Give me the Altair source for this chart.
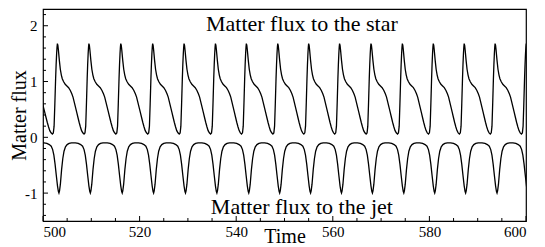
import altair as alt
import pandas as pd

# Peak times of the matter flux to the star
star_peaks = [496.2, 502.98, 509.5, 516.1, 522.7, 529.2, 535.7, 542.1, 548.6,
              555.0, 561.4, 567.9, 574.4, 580.8, 587.2, 593.6, 600.05, 606.5]
# One cycle of the star flux, offsets after a peak (for a 6.45 cycle) and values
star_off = [0.0, 0.1, 0.2, 0.4, 0.6, 0.8, 1.0, 1.25, 1.6, 1.95, 2.3, 2.65, 2.95,
            3.2, 3.45, 3.7, 3.95, 4.2, 4.45, 4.7, 4.95, 5.2, 5.45, 5.65, 5.8,
            5.95, 6.1, 6.2, 6.3, 6.38]
star_val = [1.68, 1.65, 1.57, 1.38, 1.22, 1.12, 1.05, 1.0, 0.95, 0.92, 0.89, 0.84,
            0.78, 0.72, 0.63, 0.54, 0.45, 0.36, 0.27, 0.19, 0.12, 0.08, 0.06, 0.08,
            0.2, 0.6, 1.05, 1.3, 1.5, 1.62]

# Times of the minima of the matter flux to the jet
jet_mins = [496.9, 503.3, 509.8, 516.4, 522.9, 529.5, 536.0, 542.6, 549.0,
            555.4, 561.8, 568.2, 574.7, 581.1, 587.5, 594.0, 600.4]
jet_off = [-3.1, -2.5, -2.0, -1.6, -1.3, -1.05, -0.8, -0.55, -0.3, -0.12, 0.0,
           0.12, 0.3, 0.55, 0.8, 1.05, 1.35, 1.7, 2.1, 2.6, 3.1]
jet_val = [-0.10, -0.11, -0.13, -0.16, -0.22, -0.32, -0.48, -0.68, -0.87, -0.97,
           -1.0, -0.96, -0.84, -0.58, -0.38, -0.25, -0.17, -0.13, -0.11, -0.10, -0.10]

x_major = [500, 520, 540, 560, 580, 600]
x_minor = [505, 510, 515, 525, 530, 535, 545, 550, 555, 565, 570, 575, 585, 590, 595]
y_major = [-1, 0, 1, 2]
y_minor = [-1.4, -1.2, -0.8, -0.6, -0.4, -0.2, 0.2, 0.4, 0.6, 0.8, 1.2, 1.4, 1.6, 1.8, 2.2]

labels = ["Matter flux to the star", "Matter flux to the jet"]
label_t = [553.6, 553.6]
label_v = [1.91, -1.37]

rows = []
for i in range(len(star_peaks) - 1):
    p0, p1 = star_peaks[i], star_peaks[i + 1]
    k = (p1 - p0) / 6.45
    for o, v in zip(star_off, star_val):
        rows.append({"t": p0 + o * k, "v": v, "s": "star"})
for m in jet_mins:
    for o, v in zip(jet_off, jet_val):
        rows.append({"t": m + o, "v": v, "s": "jet"})
df = pd.DataFrame(rows).sort_values(["s", "t"])

W, H = 483, 212
FONT = "Liberation Serif"

xs = alt.Scale(domain=[500, 600], nice=False, zero=False)
ys = alt.Scale(domain=[-1.5, 2.3], nice=False, zero=False)
xaxis = alt.Axis(values=x_major, format="d", ticks=False, grid=False, domain=False,
                 labelFont=FONT, labelFontSize=15, labelColor="black", labelPadding=3,
                 titleFont=FONT, titleFontSize=20, titleFontWeight="normal",
                 titleColor="black", titleY=21, titleBaseline="alphabetic")
yaxis = alt.Axis(values=y_major, ticks=False, grid=False, domain=False,
                 labelExpr="datum.value < 0 ? '-' + abs(datum.value) : '' + datum.value",
                 labelFont=FONT, labelFontSize=15, labelColor="black", labelPadding=6,
                 titleFont=FONT, titleFontSize=20, titleFontWeight="normal",
                 titleColor="black", titleX=-24, titleY=H / 2, titleBaseline="middle")

X = alt.X("t:Q", scale=xs, axis=xaxis, title="Time")
Y = alt.Y("v:Q", scale=ys, axis=yaxis, title="Matter flux")

lines = alt.Chart(df).mark_line(color="black", strokeWidth=1.3, clip=True).encode(
    x=X, y=Y, detail="s:N", order="t:Q")

def xt(vals, ln):
    return alt.Chart(pd.DataFrame({"t": vals})).mark_rule(color="black", strokeWidth=1).encode(
        x=X, y=alt.value(H), y2=alt.value(H - ln))

def yt(vals, ln):
    return alt.Chart(pd.DataFrame({"v": vals})).mark_rule(color="black", strokeWidth=1).encode(
        y=Y, x=alt.value(0), x2=alt.value(ln))

texts = alt.Chart(pd.DataFrame({"t": label_t, "v": label_v, "lab": labels})).mark_text(
    font=FONT, fontSize=22, color="black", baseline="alphabetic", align="center"
).encode(x=X, y=Y, text="lab:N")

chart = alt.layer(
    lines, xt(x_major, 5), xt(x_minor, 3), yt(y_major, 5), yt(y_minor, 3), texts
).properties(
    width=W, height=H,
    padding={"left": 35, "top": 1, "right": 10, "bottom": 26},
    autosize=alt.AutoSizeParams(type="none"),
).configure_view(stroke="black", strokeWidth=1.2)

chart.save("out.html", embed_options={"renderer": "svg", "actions": False})
